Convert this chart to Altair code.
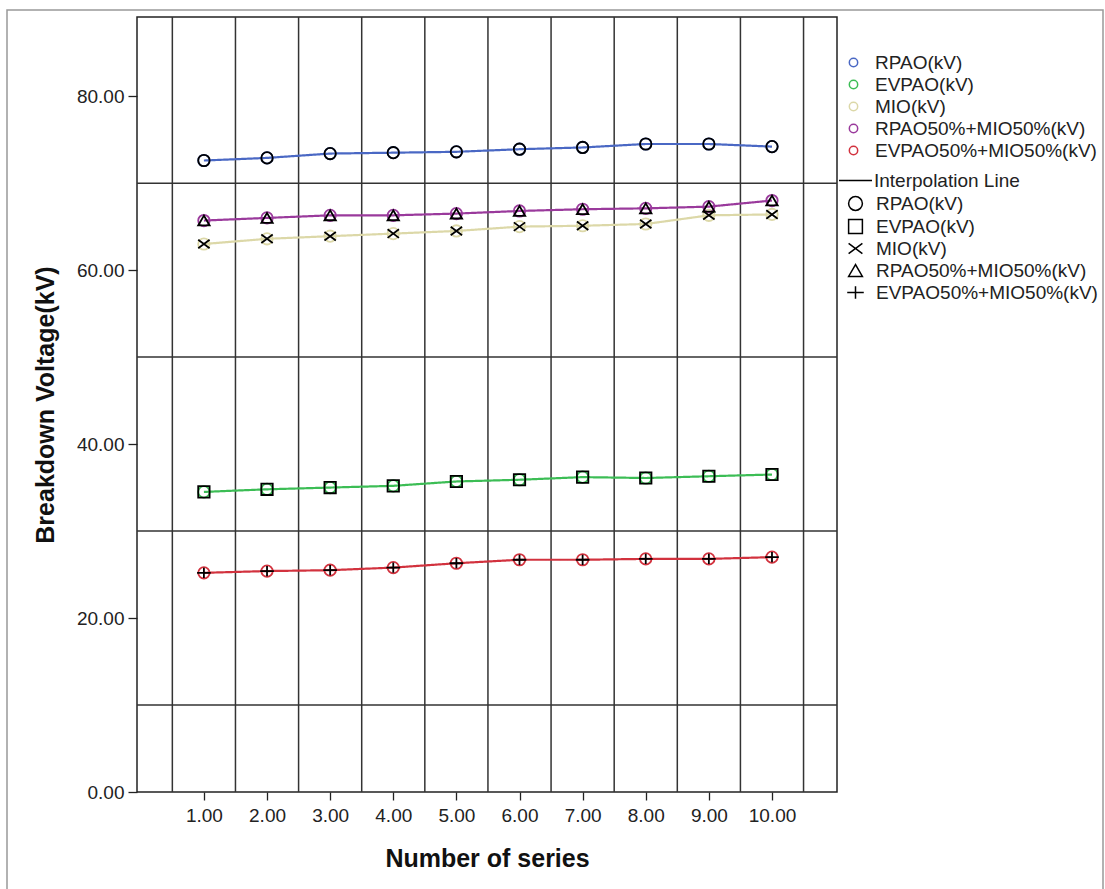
import altair as alt
import pandas as pd

x_vals = [1, 2, 3, 4, 5, 6, 7, 8, 9, 10]
series_names = ["RPAO(kV)", "EVPAO(kV)", "MIO(kV)", "RPAO50%+MIO50%(kV)", "EVPAO50%+MIO50%(kV)"]
rpao = [72.6, 72.9, 73.4, 73.5, 73.6, 73.9, 74.1, 74.5, 74.5, 74.2]
evpao = [34.5, 34.8, 35.0, 35.2, 35.7, 35.9, 36.2, 36.1, 36.3, 36.5]
mio = [63.0, 63.6, 63.9, 64.2, 64.5, 65.0, 65.1, 65.3, 66.3, 66.4]
rpao_mio = [65.7, 66.0, 66.3, 66.3, 66.5, 66.8, 67.0, 67.1, 67.3, 68.0]
evpao_mio = [25.2, 25.4, 25.5, 25.8, 26.3, 26.7, 26.7, 26.8, 26.8, 27.0]
series_colors = ["#4a68c4", "#3cbd55", "#dcd8a8", "#9a3a9c", "#d2323e"]
x_ticks = [1, 2, 3, 4, 5, 6, 7, 8, 9, 10]
y_ticks = [0, 20, 40, 60, 80]
grid_x = [0.5, 1.5, 2.5, 3.5, 4.5, 5.5, 6.5, 7.5, 8.5, 9.5, 10.5]
grid_y = [10, 30, 50, 70]

X_PATH = "M-1,-0.75L1,0.75M-1,0.75L1,-0.75"
PLUS_PATH = "M-1.2,0L1.2,0M0,-0.9L0,0.9"
shapes = ["circle", "square", X_PATH, "triangle-up", PLUS_PATH]

all_vals = [rpao, evpao, mio, rpao_mio, evpao_mio]
rows = []
for name, vals in zip(series_names, all_vals):
    for xv, yv in zip(x_vals, vals):
        rows.append({"x": xv, "y": yv, "series": name})
df = pd.DataFrame(rows)

FONT = "Liberation Sans, Arial, sans-serif"

xscale = alt.Scale(domain=[-0.06, 11.03], nice=False, zero=False)
yscale = alt.Scale(domain=[0, 89.1], nice=False, zero=False)

xenc = alt.X("x:Q", scale=xscale, axis=alt.Axis(
    values=x_ticks, format=".2f", title="Number of series", grid=False, domain=False,
    tickSize=8, tickColor="#222", tickWidth=1.3, labelPadding=6,
    labelFont=FONT, labelFontSize=19, labelColor="#222",
    titleFont=FONT, titleFontSize=25, titleFontWeight="bold", titleColor="#111",
    titleX=350, titleY=66, titleBaseline="middle", titleAlign="center"))
yenc = alt.Y("y:Q", scale=yscale, axis=alt.Axis(
    values=y_ticks, format=".2f", title="Breakdown Voltage(kV)", grid=False, domain=False,
    tickSize=9, tickColor="#222", tickWidth=1.3, labelPadding=4,
    labelFont=FONT, labelFontSize=19, labelColor="#222",
    titleFont=FONT, titleFontSize=25, titleFontWeight="bold", titleColor="#111",
    titleX=-92, titleY=387.5, titleAngle=270, titleBaseline="middle", titleAlign="center"))

frame = alt.Chart(pd.DataFrame({"a": [0]})).mark_rect(
    fillOpacity=0, stroke="#999999", strokeWidth=1.5
).encode(x=alt.value(-130), x2=alt.value(966), y=alt.value(-7), y2=alt.value(900))

vgrid = alt.Chart(pd.DataFrame({"gx": grid_x})).mark_rule(color="#333333", strokeWidth=1.5).encode(
    x=alt.X("gx:Q", scale=xscale))
hgrid = alt.Chart(pd.DataFrame({"gy": grid_y})).mark_rule(color="#333333", strokeWidth=1.5).encode(
    y=alt.Y("gy:Q", scale=yscale))

base = alt.Chart(df)

lines = base.transform_calculate(lbl='"Interpolation Line"').mark_line(strokeWidth=2.2).encode(
    x=xenc, y=yenc,
    stroke=alt.Stroke("series:N", scale=alt.Scale(domain=series_names, range=series_colors), legend=None),
    strokeDash=alt.StrokeDash("lbl:N", scale=alt.Scale(domain=["Interpolation Line"], range=[[1, 0]]),
        legend=alt.Legend(title=None, orient="none", legendX=701, legendY=146,
                          symbolType="stroke", symbolSize=1089, symbolStrokeColor="black",
                          symbolStrokeWidth=1.5, labelFont=FONT, labelFontSize=19, labelColor="#222",
                          labelOffset=1, padding=0, labelLimit=0)),
    order=alt.Order("x:Q"),
)

color_pts = base.mark_point(shape="circle", filled=False, size=130, strokeWidth=1.8, opacity=1).encode(
    x=alt.X("x:Q", scale=xscale), y=alt.Y("y:Q", scale=yscale),
    color=alt.Color("series:N", scale=alt.Scale(domain=series_names, range=series_colors),
        legend=alt.Legend(title=None, orient="none", legendX=707, legendY=36,
                          symbolType="circle", symbolSize=70, symbolStrokeWidth=1.5,
                          symbolFillColor="transparent",
                          labelFont=FONT, labelFontSize=19, labelColor="#222",
                          labelOffset=12, rowPadding=2, padding=0, labelLimit=0)),
)

shape_pts = base.mark_point(filled=False, color="black", size=130, strokeWidth=1.8, opacity=1).encode(
    x=alt.X("x:Q", scale=xscale), y=alt.Y("y:Q", scale=yscale),
    shape=alt.Shape("series:N", scale=alt.Scale(domain=series_names, range=shapes),
        legend=alt.Legend(title=None, orient="none", legendX=709, legendY=177,
                          symbolSize=190, symbolStrokeColor="black", symbolFillColor="transparent",
                          symbolStrokeWidth=1.5,
                          labelFont=FONT, labelFontSize=19, labelColor="#222",
                          labelOffset=11, rowPadding=2, padding=0, labelLimit=0)),
)

chart = alt.layer(frame, vgrid, hgrid, lines, color_pts, shape_pts).resolve_scale(
    color="independent", shape="independent", strokeDash="independent"
).properties(
    width=700, height=775,
    autosize=alt.AutoSizeParams(type="none"),
    padding={"left": 137, "top": 17, "right": 268, "bottom": 97},
    background="white",
).configure_view(stroke="#222222", strokeWidth=1.5)

chart.save("out.html", embed_options={"renderer": "svg", "actions": False})
